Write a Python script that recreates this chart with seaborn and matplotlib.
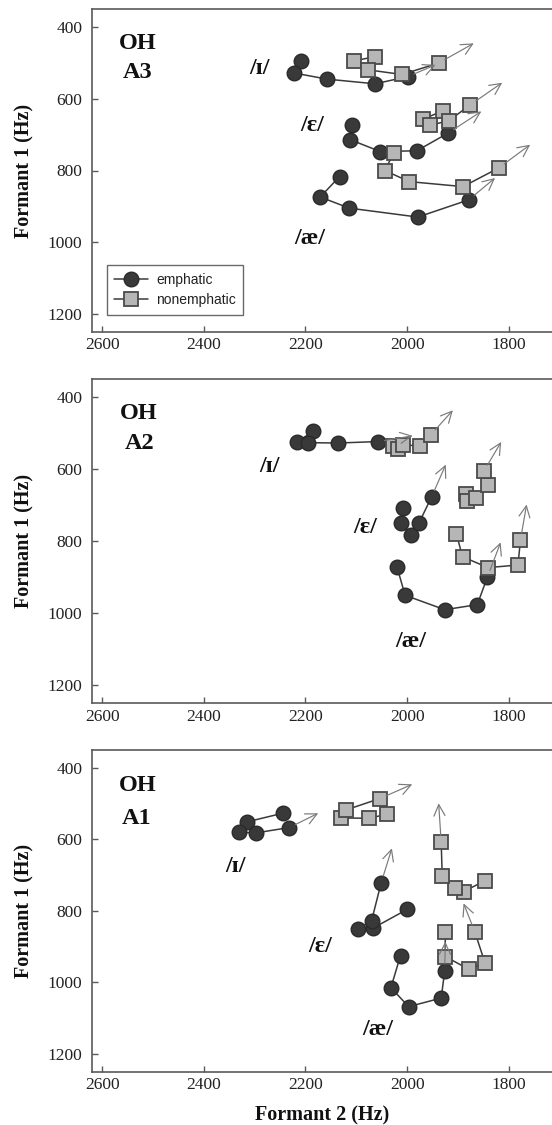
import numpy as np
import pandas as pd
import matplotlib
matplotlib.use("Agg")
import matplotlib.pyplot as plt
from matplotlib.lines import Line2D
import seaborn as sns

# ---------------- data (Hz) ----------------
vowels = ["ɪ", "ɛ", "æ"]
panels = ["A3", "A2", "A1"]
x_ticks = [2600, 2400, 2200, 2000, 1800]
y_ticks = [400, 600, 800, 1000, 1200]

# A3
a3_emph_i_f2 = [2209, 2222, 2157, 2063, 1999]
a3_emph_i_f1 = [493, 528, 545, 558, 538]
a3_emph_e_f2 = [2108, 2112, 2053, 1981, 1920]
a3_emph_e_f1 = [673, 714, 747, 745, 696]
a3_emph_ae_f2 = [2133, 2171, 2114, 1979, 1879]
a3_emph_ae_f1 = [817, 874, 905, 930, 882]
a3_non_i_f2 = [2104, 2063, 2077, 2010, 1938]
a3_non_i_f1 = [494, 482, 519, 532, 500]
a3_non_e_f2 = [1969, 1929, 1956, 1918, 1876]
a3_non_e_f1 = [657, 633, 674, 661, 617]
a3_non_ae_f2 = [2026, 2044, 1996, 1890, 1820]
a3_non_ae_f1 = [750, 800, 831, 845, 793]
a3_emph_arrow_f2 = [1944, 1854, 1827]
a3_emph_arrow_f1 = [505, 635, 821]
a3_non_arrow_f2 = [1869, 1813, 1758]
a3_non_arrow_f1 = [445, 555, 728]

# A2
a2_emph_i_f2 = [2185, 2217, 2196, 2136, 2058]
a2_emph_i_f1 = [495, 524, 526, 527, 523]
a2_emph_e_f2 = [2009, 2013, 1992, 1977, 1952]
a2_emph_e_f1 = [708, 750, 782, 750, 677]
a2_emph_ae_f2 = [2020, 2004, 1926, 1862, 1842]
a2_emph_ae_f1 = [871, 950, 990, 976, 899]
a2_non_i_f2 = [2028, 2018, 2009, 1975, 1954]
a2_non_i_f1 = [535, 545, 532, 535, 505]
a2_non_e_f2 = [1885, 1882, 1865, 1841, 1849]
a2_non_e_f1 = [668, 689, 680, 645, 605]
a2_non_ae_f2 = [1903, 1891, 1841, 1782, 1777]
a2_non_ae_f1 = [780, 843, 873, 866, 796]
a2_emph_arrow_f2 = [1989, 1924, 1816]
a2_emph_arrow_f1 = [507, 587, 803]
a2_non_arrow_f2 = [1910, 1815, 1765]
a2_non_arrow_f1 = [436, 524, 698]

# A1
a1_emph_i_f2 = [2245, 2315, 2330, 2298, 2232]
a1_emph_i_f1 = [527, 551, 580, 582, 567]
a1_emph_e_f2 = [2000, 2068, 2097, 2070, 2051]
a1_emph_e_f1 = [796, 849, 851, 828, 721]
a1_emph_ae_f2 = [2013, 2032, 1997, 1933, 1926]
a1_emph_ae_f1 = [925, 1015, 1068, 1044, 967]
a1_non_i_f2 = [2040, 2076, 2131, 2121, 2054]
a1_non_i_f1 = [530, 541, 540, 518, 486]
a1_non_e_f2 = [1847, 1889, 1906, 1931, 1933]
a1_non_e_f1 = [716, 746, 737, 702, 608]
a1_non_ae_f2 = [1925, 1925, 1879, 1847, 1867]
a1_non_ae_f1 = [860, 928, 963, 945, 858]
a1_emph_arrow_f2 = [2175, 2030, 1925]
a1_emph_arrow_f1 = [527, 625, 886]
a1_non_arrow_f2 = [1990, 1938, 1889]
a1_non_arrow_f1 = [446, 499, 779]

# vowel label anchor positions (Hz)
a3_label_f2 = [2290, 2187, 2191]
a3_label_f1 = [514, 675, 991]
a2_label_f2 = [2271, 2082, 1992]
a2_label_f1 = [591, 762, 1079]
a1_label_f2 = [2338, 2171, 2057]
a1_label_f1 = [677, 900, 1133]

panel_data = {
    "A3": dict(
        emph=[(a3_emph_i_f2, a3_emph_i_f1), (a3_emph_e_f2, a3_emph_e_f1), (a3_emph_ae_f2, a3_emph_ae_f1)],
        non=[(a3_non_i_f2, a3_non_i_f1), (a3_non_e_f2, a3_non_e_f1), (a3_non_ae_f2, a3_non_ae_f1)],
        emph_arrow=(a3_emph_arrow_f2, a3_emph_arrow_f1),
        non_arrow=(a3_non_arrow_f2, a3_non_arrow_f1),
        labels=(a3_label_f2, a3_label_f1)),
    "A2": dict(
        emph=[(a2_emph_i_f2, a2_emph_i_f1), (a2_emph_e_f2, a2_emph_e_f1), (a2_emph_ae_f2, a2_emph_ae_f1)],
        non=[(a2_non_i_f2, a2_non_i_f1), (a2_non_e_f2, a2_non_e_f1), (a2_non_ae_f2, a2_non_ae_f1)],
        emph_arrow=(a2_emph_arrow_f2, a2_emph_arrow_f1),
        non_arrow=(a2_non_arrow_f2, a2_non_arrow_f1),
        labels=(a2_label_f2, a2_label_f1)),
    "A1": dict(
        emph=[(a1_emph_i_f2, a1_emph_i_f1), (a1_emph_e_f2, a1_emph_e_f1), (a1_emph_ae_f2, a1_emph_ae_f1)],
        non=[(a1_non_i_f2, a1_non_i_f1), (a1_non_e_f2, a1_non_e_f1), (a1_non_ae_f2, a1_non_ae_f1)],
        emph_arrow=(a1_emph_arrow_f2, a1_emph_arrow_f1),
        non_arrow=(a1_non_arrow_f2, a1_non_arrow_f1),
        labels=(a1_label_f2, a1_label_f1)),
}

# ---------------- style ----------------
sns.set_style("white")
plt.rcParams["font.family"] = ["Liberation Serif", "DejaVu Serif"]
SERIF = ["Liberation Serif", "DejaVu Serif"]
SANS = ["Liberation Sans", "DejaVu Sans"]

LINE_C = "#3a3a3a"
EMPH_FACE = "#393939"
EMPH_EDGE = "#2a2a2a"
NON_FACE = "#b6b6b6"
NON_EDGE = "#4a4a4a"
ARROW_C = "#7a7a7a"
SPINE_C = "#5a5a5a"

fig = plt.figure(figsize=(5.52, 11.25), dpi=100)
H = 1125.0
W = 552.0
left = 92.0 / W
width = 1.0 - left
# (top_px, bottom_px) for each panel
panel_px = {"A3": (9.3, 331.7), "A2": (379.3, 703.3), "A1": (750.0, 1071.7)}
name_pos = {"A3": (0.099, 0.895, 0.098, 0.803),
            "A2": (0.101, 0.895, 0.104, 0.802),
            "A1": (0.099, 0.891, 0.097, 0.788)}


def make_df(series_list):
    rows = []
    for v, (f2, f1) in zip(vowels, series_list):
        for k, (a, b) in enumerate(zip(f2, f1)):
            rows.append({"vowel": v, "step": k, "F2": a, "F1": b})
    return pd.DataFrame(rows)


for pname in panels:
    top_px, bot_px = panel_px[pname]
    ax = fig.add_axes([left, 1 - bot_px / H, width, (bot_px - top_px) / H])
    d = panel_data[pname]

    df_e = make_df(d["emph"])
    df_n = make_df(d["non"])

    sns.lineplot(data=df_e, x="F2", y="F1", units="vowel", estimator=None,
                 sort=False, color=LINE_C, linewidth=1.1, marker="o",
                 markersize=10.5, markerfacecolor=EMPH_FACE,
                 markeredgecolor=EMPH_EDGE, markeredgewidth=1.0,
                 legend=False, ax=ax, zorder=2)
    sns.lineplot(data=df_n, x="F2", y="F1", units="vowel", estimator=None,
                 sort=False, color=LINE_C, linewidth=1.1, marker="s",
                 markersize=10, markerfacecolor=NON_FACE,
                 markeredgecolor=NON_EDGE, markeredgewidth=1.3,
                 legend=False, ax=ax, zorder=3)

    # direction arrows from last point of each trajectory
    for key, arrkey in (("emph", "emph_arrow"), ("non", "non_arrow")):
        af2, af1 = d[arrkey]
        for i, (f2, f1) in enumerate(d[key]):
            ax.annotate("", xy=(af2[i], af1[i]), xytext=(f2[-1], f1[-1]),
                        arrowprops=dict(arrowstyle="->,head_length=0.45,head_width=0.22",
                                        color=ARROW_C, lw=0.85, shrinkA=5,
                                        shrinkB=0, mutation_scale=18),
                        zorder=5)

    # vowel labels
    lf2, lf1 = d["labels"]
    for v, x, y in zip(vowels, lf2, lf1):
        ax.text(x, y, "/" + v + "/", family=SERIF, fontsize=17.5,
                fontweight="bold", ha="center", va="center", color="#111111")

    # speaker / panel labels
    nx1, ny1, nx2, ny2 = name_pos[pname]
    ax.text(nx1, ny1, "OH", transform=ax.transAxes, family=SERIF,
            fontsize=17.5, fontweight="bold", ha="center", va="center",
            color="#111111")
    ax.text(nx2, ny2, pname, transform=ax.transAxes, family=SERIF,
            fontsize=17.5, fontweight="bold", ha="center", va="center",
            color="#111111")

    ax.set_xlim(2620, 1715)
    ax.set_ylim(1250, 350)
    ax.set_xticks(x_ticks)
    ax.set_yticks(y_ticks)
    ax.set_xticklabels([str(t) for t in x_ticks])
    ax.set_yticklabels([str(t) for t in y_ticks])
    ax.tick_params(axis="both", direction="in", length=4, width=1.0,
                   color=SPINE_C, labelsize=12.5, labelcolor="#222222")
    ax.tick_params(axis="x", pad=4, bottom=True)
    ax.tick_params(axis="y", pad=7, left=True)
    for lab in ax.get_xticklabels() + ax.get_yticklabels():
        lab.set_family(SERIF)

    for s in ("top", "left", "bottom"):
        ax.spines[s].set_visible(True)
        ax.spines[s].set_color(SPINE_C)
        ax.spines[s].set_linewidth(1.2)
    ax.spines["right"].set_visible(False)

    ax.set_ylabel("Formant 1 (Hz)", family=SERIF, fontsize=14.5,
                  fontweight="bold", color="#111111")
    ax.yaxis.set_label_coords(-0.125, 0.5)
    if pname == "A1":
        ax.set_xlabel("Formant 2 (Hz)", family=SERIF, fontsize=14.5,
                      fontweight="bold", color="#111111")
        ax.xaxis.set_label_coords(0.5, -0.105)
    else:
        ax.set_xlabel("")

    if pname == "A3":
        handles = [
            Line2D([0], [0], color=LINE_C, lw=1.1, marker="o", markersize=10.5,
                   markerfacecolor=EMPH_FACE, markeredgecolor=EMPH_EDGE,
                   markeredgewidth=1.0),
            Line2D([0], [0], color=LINE_C, lw=1.1, marker="s", markersize=10,
                   markerfacecolor=NON_FACE, markeredgecolor=NON_EDGE,
                   markeredgewidth=1.3),
        ]
        leg = ax.legend(handles, ["emphatic", "nonemphatic"], loc="lower left",
                        bbox_to_anchor=(0.032, 0.052), borderaxespad=0,
                        frameon=True, fancybox=False, framealpha=1,
                        edgecolor="#6a6a6a", handlelength=2.4,
                        handletextpad=0.6, labelspacing=0.45,
                        borderpad=0.55, prop={"family": SANS, "size": 10})
        leg.get_frame().set_linewidth(1.0)
        for t in leg.get_texts():
            t.set_color("#222222")

fig.savefig("out.png", dpi=100)
